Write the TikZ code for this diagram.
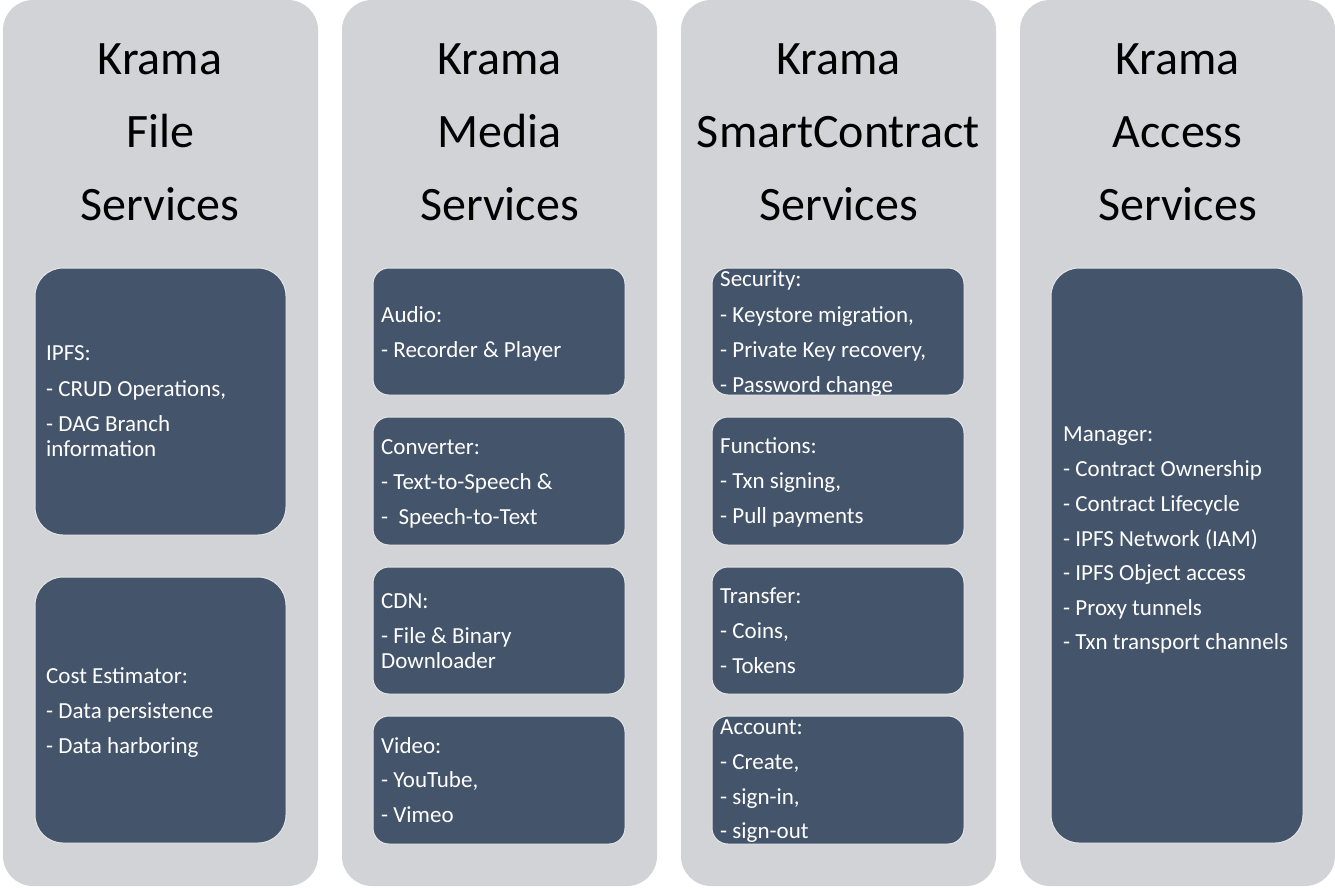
\documentclass[tikz,border=0pt]{standalone}
\usepackage{fontspec}
\setmainfont{Carlito}
\definecolor{colgrey}{HTML}{D1D3D7}
\definecolor{boxblue}{HTML}{44546A}
\definecolor{boxedge}{HTML}{E4E6EA}
\tikzset{
  column/.style={fill=colgrey, draw=none, rounded corners=30pt},
  svcbox/.style={fill=boxblue, draw=boxedge, line width=1pt, rounded corners=#1},
  svcbox/.default=16pt,
  title/.style={anchor=base, font=\fontsize{48}{48}\selectfont, text=black, inner sep=0pt},
  item/.style={anchor=base west, font=\fontsize{23}{25}\selectfont, text=white, inner sep=0pt},
}
\begin{document}
\begin{tikzpicture}[x=1pt,y=-1pt]
\useasboundingbox (0,0) rectangle (1335,887);
% columns
\foreach \x/\n in {3/1,342/2,681/3,1020/4}{
  \path[column] (\x,0) rectangle ++(315,886);
}
% titles
\foreach \n/\cx/\w in {1/160/File,2/499.5/Media,3/838.5/SmartContract,4/1177.5/Access}{
  \node[title] (k\n) at (\cx,74) {Krama};
  \node[title] (m\n) at (\cx,147) {\w};
  \node[title] (s\n) at (\cx,220) {Services};
}
% column 1 boxes
\draw[svcbox=28pt] (35,268) rectangle (286,535);
\draw[svcbox=28pt] (35,577) rectangle (286,843);
% column 2 and 3 boxes
\foreach \x in {373,712}{
  \draw[svcbox] (\x,268) rectangle ++(252,127);
  \draw[svcbox] (\x,417) rectangle ++(252,128);
  \draw[svcbox] (\x,567) rectangle ++(252,127);
  \draw[svcbox] (\x,716) rectangle ++(252,128);
}
% column 4 box
\draw[svcbox=28pt] (1051,268) rectangle (1303,843);
% texts column 1
\foreach \y/\t [count=\i] in {360/{IPFS:},396/{- CRUD Operations,},431/{- DAG Branch},456/{information},683/{Cost Estimator:},718/{- Data persistence},753/{- Data harboring}}{
  \node[item] (a\i) at (46,\y) {\t};
}
% texts column 2
\foreach \y/\t [count=\i] in {322/{Audio:},357/{- Recorder \& Player},454/{Converter:},489/{- Text-to-Speech \&},524/{-\ \ Speech-to-Text},608/{CDN:},643/{- File \& Binary},668/{Downloader},753/{Video:},787/{- YouTube,},822/{- Vimeo}}{
  \node[item] (b\i) at (381,\y) {\t};
}
% texts column 3
\foreach \y/\t [count=\i] in {286/{Security:},322/{- Keystore migration,},357/{- Private Key recovery,},392/{- Password change},453/{Functions:},488/{- Txn signing,},523/{- Pull payments},603/{Transfer:},638/{- Coins,},673/{- Tokens},734/{Account:},769/{- Create,},804/{- sign-in,},838/{- sign-out}}{
  \node[item] (c\i) at (720,\y) {\t};
}
% texts column 4
\foreach \y/\t [count=\i] in {441/{Manager:},476/{- Contract Ownership},511/{- Contract Lifecycle},546/{- IPFS Network (IAM)},580/{- IPFS Object access},615/{- Proxy tunnels},649/{- Txn transport channels}}{
  \node[item] (d\i) at (1063,\y) {\t};
}
\end{tikzpicture}
\end{document}
